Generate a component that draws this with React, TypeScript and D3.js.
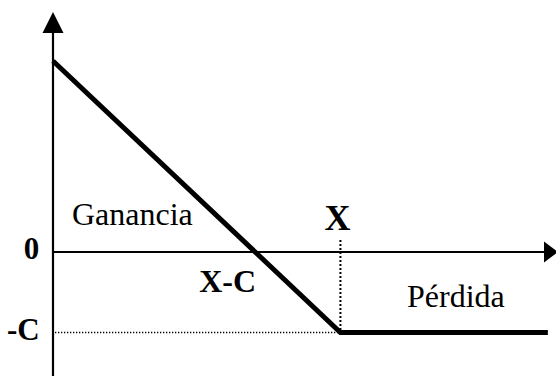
import React from "react";
import * as d3 from "d3";

// Conceptual values (long put payoff): strike X, premium C
const strike = 6;
const premium = 1.78;
const priceStops = [0, 6, 10.33];
const payoff = priceStops.map((s) => Math.max(strike - s, 0) - premium);
const axisLabels = ["0", "-C"];
const regionLabels = ["Ganancia", "Pérdida"];
const pointLabels = ["X", "X-C"];

const W = 556;
const H = 376;
const FONT = "Liberation Serif, Times New Roman, serif";

export default function App() {
  const x = d3.scaleLinear().domain([0, 10.5]).range([53, 556]);
  const y = d3.scaleLinear().domain([-2.74, 5.28]).range([376, 13]);

  const line = d3
    .line<number>()
    .x((_, i) => x(priceStops[i]))
    .y((d) => y(d));

  const x0 = x(0);
  const y0 = y(0);
  const yC = y(-premium);
  const xX = x(strike);
  const xBreak = x(strike - premium);
  const ts = (size: number, bold = false): React.CSSProperties => ({
    fontFamily: FONT,
    fontSize: size,
    fontWeight: bold ? 700 : 400,
  });

  return (
    <svg
      width={W}
      height={H}
      style={{ position: "absolute", left: 0, top: 0, background: "#fff" }}
    >
      <rect width={W} height={H} fill="#fff" />
      {/* y axis */}
      <line x1={x0} x2={x0} y1={33} y2={H} stroke="#000" strokeWidth={2.2} />
      <path d={`M${x0},12 L${x0 - 10.5},33 L${x0 + 10.5},33 Z`} fill="#000" />
      {/* x axis */}
      <line x1={x0} x2={545} y1={y0} y2={y0} stroke="#000" strokeWidth={2.2} />
      <path d={`M558,${y0} L544,${y0 - 10.5} L544,${y0 + 10.5} Z`} fill="#000" />
      {/* dotted guides */}
      <line
        x1={x0 + 2}
        x2={xX}
        y1={yC}
        y2={yC}
        stroke="#000"
        strokeWidth={1.5}
        strokeDasharray="1.3,1.7"
      />
      <line
        x1={xX}
        x2={xX}
        y1={240}
        y2={yC}
        stroke="#000"
        strokeWidth={2}
        strokeDasharray="2,2"
      />
      {/* payoff */}
      <path
        d={line(payoff) || ""}
        fill="none"
        stroke="#000"
        strokeWidth={5}
        strokeLinejoin="miter"
      />
      {/* labels */}
      <text x={31.5} y={y0 + 7} style={ts(31, true)} textAnchor="middle">
        {axisLabels[0]}
      </text>
      <text x={7} y={yC + 7} style={ts(31, true)}>
        {axisLabels[1]}
      </text>
      <text x={72} y={225} style={ts(32)}>
        {regionLabels[0]}
      </text>
      <text x={407} y={307} style={ts(32)}>
        {regionLabels[1]}
      </text>
      <text x={xX - 3} y={230} style={ts(36, true)} textAnchor="middle">
        {pointLabels[0]}
      </text>
      <text x={xBreak - 56} y={292} style={ts(32, true)}>
        {pointLabels[1]}
      </text>
    </svg>
  );
}
